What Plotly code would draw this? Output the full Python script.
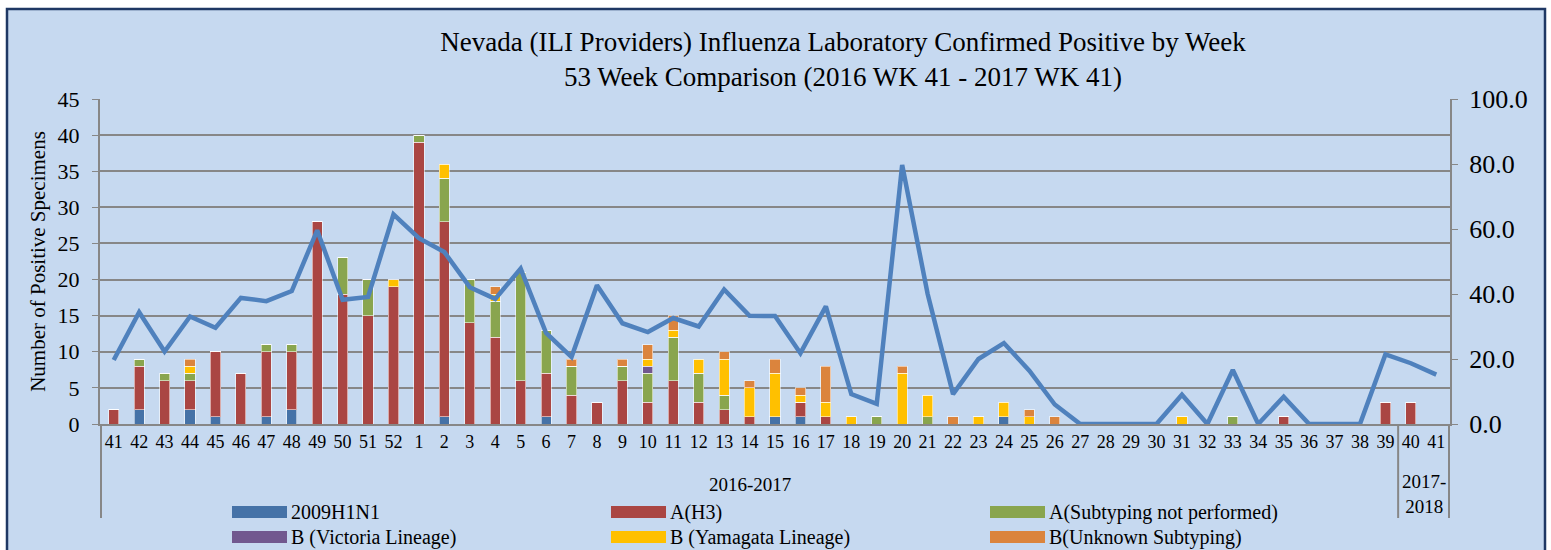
import plotly.graph_objects as go

weeks = [str(w) for w in list(range(41, 53)) + list(range(1, 40))] + ["40", "41"]
season_of_week = ["2016-2017"] * 51 + ["2017-2018"] * 2
categories = [f"{s} wk{w}" for s, w in zip(season_of_week, weeks)]
season_labels = ["2016-2017", "2017-<br>2018"]

h1n1 = [0, 2, 0, 2, 1, 0, 1, 2, 0, 0, 0, 0,
        0, 1, 0, 0, 0, 1, 0, 0, 0, 0, 0, 0, 0, 0, 1, 1, 0, 0, 0, 0, 0, 0, 0, 1, 0, 0,
        0, 0, 0, 0, 0, 0, 0, 0, 0, 0, 0, 0, 0, 0, 0]
h3 = [2, 6, 6, 4, 9, 7, 9, 8, 28, 18, 15, 19,
      39, 27, 14, 12, 6, 6, 4, 3, 6, 3, 6, 3, 2, 1, 0, 2, 1, 0, 0, 0, 0, 0, 0, 0, 0, 0,
      0, 0, 0, 0, 0, 0, 0, 0, 1, 0, 0, 0, 3, 3, 0]
a_sub = [0, 1, 1, 1, 0, 0, 1, 1, 0, 5, 5, 0,
         1, 6, 6, 5, 15, 6, 4, 0, 2, 4, 6, 4, 2, 0, 0, 0, 0, 0, 1, 0, 1, 0, 0, 0, 0, 0,
         0, 0, 0, 0, 0, 0, 1, 0, 0, 0, 0, 0, 0, 0, 0]
b_vic = [0] * 12 + [0, 0, 0, 0, 0, 0, 0, 0, 0, 1, 0, 0, 0, 0, 0, 0, 0, 0, 0, 0, 0, 0, 0, 0, 0, 0,
                    0, 0, 0, 0, 0, 0, 0, 0, 0, 0, 0, 0, 0, 0, 0]
b_yam = [0, 0, 0, 1, 0, 0, 0, 0, 0, 0, 0, 1,
         0, 2, 0, 1, 0, 0, 0, 0, 0, 1, 1, 2, 5, 4, 6, 1, 2, 1, 0, 7, 3, 0, 1, 2, 1, 0,
         0, 0, 0, 0, 1, 0, 0, 0, 0, 0, 0, 0, 0, 0, 0]
b_unk = [0, 0, 0, 1, 0, 0, 0, 0, 0, 0, 0, 0,
         0, 0, 0, 1, 0, 0, 1, 0, 1, 2, 2, 0, 1, 1, 2, 1, 5, 0, 0, 1, 0, 1, 0, 0, 1, 1,
         0, 0, 0, 0, 0, 0, 0, 0, 0, 0, 0, 0, 0, 0, 0]
pct_positive = [19.7, 34.4, 22.3, 33.1, 29.6, 38.8, 37.8, 40.9, 59.6, 38.2, 39.1, 64.5,
                57.2, 52.9, 42.1, 38.5, 47.8, 28.0, 20.6, 42.7, 31.0, 28.3, 32.6, 30.0, 41.4, 33.3,
                33.2, 21.8, 36.2, 9.2, 6.2, 79.7, 40.1, 9.2, 20.0, 24.9, 16.4, 6.0,
                0, 0, 0, 0, 9.0, 0, 16.6, 0, 8.4, 0, 0, 0, 21.4, 18.7, 15.2]

series_names = ["2009H1N1", "A(H3)", "A(Subtyping not performed)",
                "B (Victoria Lineage)", "B (Yamagata Lineage)", "B(Unknown Subtyping)"]
series_values = [h1n1, h3, a_sub, b_vic, b_yam, b_unk]
series_colors = ["#4572A7", "#AA4643", "#89A54E", "#71588F", "#FFC000", "#DB843D"]

FONT = "Liberation Serif"
GRID = "#878787"

# plot-area pixel geometry (used to place decorations in paper coords)
L, R, T, B = 100, 1450, 99, 424
W, H = R - L, B - T
def px(xp):
    return (xp - L) / W
def py(yp):
    return (B - yp) / H

fig = go.Figure()
for name, vals, color in zip(series_names, series_values, series_colors):
    fig.add_trace(go.Bar(x=categories, y=vals, name=name, showlegend=False,
                         marker=dict(color=color, line=dict(color="rgba(255,255,255,0.55)", width=1))))

fig.add_trace(go.Scatter(x=categories, y=pct_positive, mode="lines", yaxis="y2", showlegend=False,
                         line=dict(color="#4F81BD", width=4.5), name="% Positive"))

shapes = [dict(type="rect", xref="paper", yref="paper", x0=px(7), x1=px(1545), y0=py(600), y1=py(9),
               fillcolor="#C6D9F0", line=dict(color="#1F3864", width=2.5), layer="below")]
# group dividers below the category axis
n_first = season_of_week.count("2016-2017")
for xd in [-0.5, n_first - 0.5, len(categories) - 0.5]:
    shapes.append(dict(type="line", xref="x", yref="paper", x0=xd, x1=xd, y0=0, y1=py(518),
                       line=dict(color=GRID, width=2)))

annotations = [
    dict(text=season_labels[0], xref="x", yref="paper", x=(n_first - 1) / 2, y=py(484),
         showarrow=False, font=dict(size=19, family=FONT), xanchor="center", yanchor="middle"),
    dict(text=season_labels[1], xref="x", yref="paper", x=n_first + 0.5, y=py(494),
         showarrow=False, font=dict(size=19, family=FONT), xanchor="center", yanchor="middle"),
]

# custom legend (wide swatches as in the reference)
col_x = [232, 611, 990]
row_y = [512, 537]
for i, (name, color) in enumerate(zip(series_names, series_colors)):
    cx, ry = col_x[i % 3], row_y[i // 3]
    shapes.append(dict(type="rect", xref="paper", yref="paper", x0=px(cx), x1=px(cx + 55),
                       y0=py(ry + 6), y1=py(ry - 6), fillcolor=color, line=dict(width=0)))
    annotations.append(dict(text=name, xref="paper", yref="paper", x=px(cx + 57), y=py(ry),
                            xanchor="left", yanchor="middle", showarrow=False,
                            font=dict(size=20, family=FONT)))

fig.update_layout(
    width=1551, height=550,
    barmode="stack", bargap=0.6,
    paper_bgcolor="white", plot_bgcolor="white",
    margin=dict(l=L, r=1551 - R, t=T, b=550 - B, autoexpand=False),
    font=dict(family=FONT, color="black", size=16),
    title=dict(text="Nevada (ILI Providers) Influenza Laboratory Confirmed Positive by Week<br>53 Week Comparison (2016 WK 41 - 2017 WK 41)",
               x=843 / 1551, xanchor="center", y=1 - 51 / 550, yanchor="middle", font=dict(size=27, family=FONT)),
    xaxis=dict(type="category", categoryorder="array", categoryarray=categories,
               tickvals=categories, ticktext=weeks, showgrid=False, showline=True,
               linecolor=GRID, linewidth=2, ticks="", tickfont=dict(size=18), tickangle=0),
    yaxis=dict(range=[0, 45], dtick=5, showgrid=True, gridcolor=GRID, gridwidth=2,
               showline=True, linecolor=GRID, linewidth=2, ticks="outside", ticklen=6, tickcolor=GRID,
               tickfont=dict(size=22), zeroline=False, ticklabelstandoff=8,
               title=dict(text="Number of Positive Specimens", font=dict(size=21), standoff=6)),
    yaxis2=dict(range=[0, 100], dtick=20, tickformat=".1f", overlaying="y", side="right", showgrid=False,
                showline=True, linecolor=GRID, linewidth=2, ticks="outside", ticklen=6, tickcolor=GRID,
                tickfont=dict(size=26), zeroline=False, ticklabelstandoff=6),
    showlegend=False,
    shapes=shapes,
    annotations=annotations,
)

fig.write_html("out.html", config={"displayModeBar": False},
               post_script="document.body.style.margin='0';document.body.style.padding='0';")
